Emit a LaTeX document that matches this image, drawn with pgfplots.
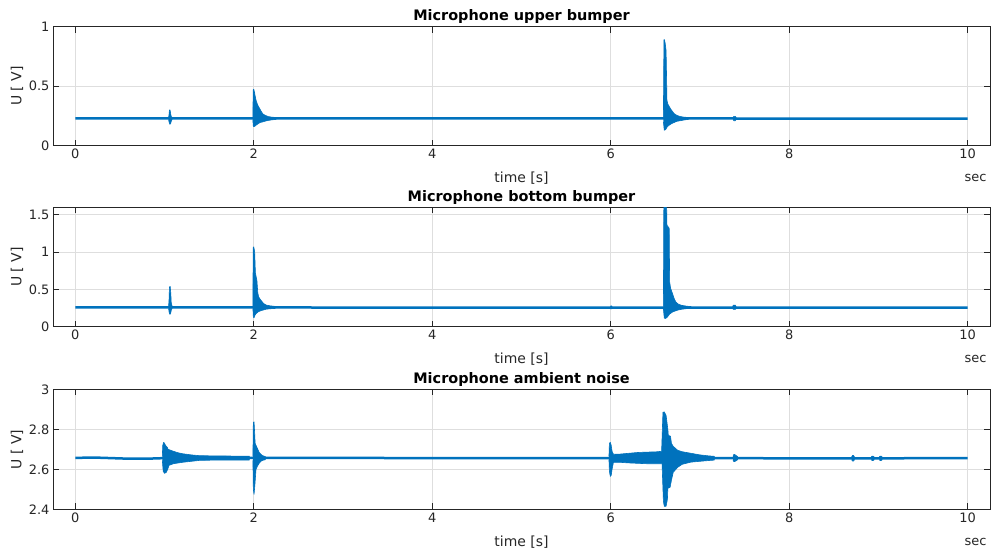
\documentclass[border=0pt]{standalone}
\usepackage{fontspec}
\setmainfont{DejaVu Sans}
\usepackage{pgfplots}
\pgfplotsset{compat=1.18}
\definecolor{mblue}{rgb}{0,0.447,0.741}
\definecolor{axgray}{rgb}{0.15,0.15,0.15}
\pgfplotsset{
  panel/.style={
    width=937bp, scale only axis,
    xmin=-0.25, xmax=10.25,
    xtick={0,2,4,6,8,10},
    axis line style={axgray, line width=0.6bp},
    tick style={axgray, line width=0.6bp},
    major tick length=6bp,
    tick align=inside,
    grid=major,
    grid style={black!13, line width=0.6bp},
    ticklabel style={font=\fontsize{13}{15}\selectfont, text=axgray},
    /pgf/number format/assume math mode=true,
    xlabel={time [s]},
    ylabel={U [ V]},
    every axis x label/.style={at={(rel axis cs:0.5,0)}, anchor=base, yshift=-37bp, font=\fontsize{14}{16}\selectfont, text=axgray},
    every axis y label/.style={at={(rel axis cs:-0.0384,0.5)}, rotate=90, anchor=center, font=\fontsize{14}{16}\selectfont, text=axgray},
    every axis title/.style={at={(rel axis cs:0.5,1)}, anchor=base, yshift=6bp, font=\bfseries\fontsize{14.5}{17}\selectfont},
    no markers,
  },
  base/.style={mblue, line width=2.5bp, line join=round},
  env/.style={mblue, fill=mblue, line width=0.6bp, line join=round},
}
\tikzset{seclab/.style={anchor=base east, font=\fontsize{13}{15}\selectfont, text=axgray, yshift=-36bp}}
\begin{document}
\begin{tikzpicture}
% ---------------- panel 1
\begin{axis}[panel, name=ax1, at={(53bp,-145.7bp)}, anchor=south west, height=119bp,
  ymin=0, ymax=1, ytick={0,0.5,1}, title={Microphone upper bumper}]
\addplot[base] coordinates {(0,0.229) (1,0.229) (2,0.23) (3,0.229) (4,0.229) (5,0.229) (6,0.229) (7,0.229) (8,0.228) (9,0.228) (10,0.228)};
\addplot[env] coordinates {(1.045,0.235) (1.05,0.26) (1.055,0.30) (1.062,0.30) (1.068,0.27) (1.075,0.245) (1.085,0.236)
  (1.085,0.221) (1.075,0.205) (1.068,0.185) (1.06,0.18) (1.052,0.195) (1.045,0.221)};
\addplot[env] coordinates {(1.99,0.236) (1.993,0.47) (2.0,0.475) (2.01,0.44) (2.02,0.40) (2.03,0.37) (2.045,0.34) (2.06,0.32) (2.075,0.30) (2.09,0.28) (2.105,0.265) (2.13,0.255) (2.16,0.245) (2.2,0.24) (2.25,0.237)
  (2.25,0.221) (2.2,0.217) (2.16,0.212) (2.13,0.207) (2.1,0.20) (2.07,0.195) (2.05,0.185) (2.03,0.175) (2.015,0.165) (2.0,0.16) (1.993,0.17) (1.99,0.221)};
\addplot[env] coordinates {(6.59,0.236) (6.596,0.89) (6.603,0.89) (6.61,0.86) (6.62,0.80) (6.625,0.60) (6.63,0.38) (6.64,0.35) (6.655,0.33) (6.67,0.31) (6.69,0.29) (6.71,0.27) (6.74,0.255) (6.78,0.245) (6.82,0.24) (6.87,0.237)
  (6.87,0.221) (6.82,0.216) (6.78,0.21) (6.74,0.205) (6.71,0.195) (6.68,0.185) (6.65,0.17) (6.63,0.155) (6.615,0.135) (6.6,0.13) (6.59,0.20)};
\addplot[env] coordinates {(7.37,0.236) (7.38,0.247) (7.395,0.247) (7.405,0.236) (7.405,0.221) (7.395,0.21) (7.38,0.21) (7.37,0.221)};
\end{axis}
\node[seclab] at (ax1.south east) {sec};
% ---------------- panel 2
\begin{axis}[panel, name=ax2, at={(53bp,-326.7bp)}, anchor=south west, height=119.4bp,
  ymin=0, ymax=1.6, ytick={0,0.5,1,1.5}, title={Microphone bottom bumper}]
\addplot[base] coordinates {(0,0.258) (1,0.258) (2,0.258) (3,0.257) (4,0.257) (5,0.257) (6,0.257) (7,0.257) (8,0.257) (9,0.257) (10,0.257)};
\addplot[env] coordinates {(1.045,0.27) (1.05,0.35) (1.055,0.53) (1.063,0.54) (1.07,0.45) (1.075,0.32) (1.085,0.275)
  (1.085,0.245) (1.075,0.22) (1.068,0.175) (1.06,0.165) (1.052,0.19) (1.045,0.245)};
\addplot[env] coordinates {(1.99,0.27) (1.993,1.06) (2.0,1.07) (2.01,1.0) (2.018,0.72) (2.025,0.68) (2.035,0.62) (2.045,0.45) (2.055,0.40) (2.07,0.37) (2.09,0.34) (2.11,0.31) (2.14,0.29) (2.18,0.28) (2.24,0.272)
  (2.24,0.245) (2.18,0.24) (2.14,0.235) (2.11,0.225) (2.08,0.215) (2.05,0.20) (2.03,0.18) (2.015,0.16) (2.003,0.12) (1.995,0.13) (1.99,0.245)};
\addplot[env] coordinates {(6.59,0.27) (6.595,1.70) (6.625,1.70) (6.63,1.36) (6.655,1.32) (6.66,0.60) (6.67,0.52) (6.69,0.45) (6.71,0.38) (6.73,0.33) (6.76,0.30) (6.80,0.285) (6.85,0.275) (6.90,0.27)
  (6.90,0.245) (6.85,0.242) (6.80,0.235) (6.76,0.225) (6.72,0.21) (6.69,0.195) (6.66,0.17) (6.635,0.13) (6.615,0.11) (6.60,0.115) (6.59,0.24)};
\addplot[env] coordinates {(7.365,0.27) (7.375,0.29) (7.395,0.29) (7.405,0.27) (7.405,0.245) (7.395,0.232) (7.375,0.232) (7.365,0.245)};
\addplot[env] coordinates {(5.995,0.27) (6.0,0.278) (6.01,0.278) (6.015,0.27) (6.015,0.245) (6.01,0.238) (6.0,0.238) (5.995,0.245)};
\end{axis}
\node[seclab] at (ax2.south east) {sec};
% ---------------- panel 3
\begin{axis}[panel, name=ax3, at={(53bp,-509.3bp)}, anchor=south west, height=120bp,
  ymin=2.4, ymax=3, ytick={2.4,2.6,2.8,3}, title={Microphone ambient noise}]
\addplot[base] coordinates {(0,2.657) (0.2,2.659) (0.4,2.656) (0.6,2.653) (0.8,2.653) (1.0,2.656) (1.5,2.657) (2.0,2.657) (3,2.657) (4,2.656) (5,2.656) (6,2.656) (7,2.656) (8,2.655) (9,2.655) (10,2.656)};
\addplot[env] coordinates {(0.975,2.665) (0.98,2.72) (0.99,2.735) (1.0,2.73) (1.01,2.72) (1.03,2.71) (1.04,2.70) (1.07,2.695) (1.1,2.69) (1.15,2.683) (1.2,2.678) (1.3,2.672) (1.4,2.668) (1.6,2.667) (1.8,2.666) (1.95,2.666)
  (1.95,2.646) (1.8,2.646) (1.6,2.646) (1.4,2.645) (1.3,2.64) (1.2,2.635) (1.1,2.628) (1.05,2.62) (1.035,2.60) (1.02,2.585) (1.0,2.58) (0.985,2.59) (0.975,2.645)};
\addplot[env] coordinates {(1.99,2.665) (1.995,2.835) (2.003,2.837) (2.01,2.78) (2.015,2.73) (2.03,2.715) (2.045,2.70) (2.06,2.685) (2.08,2.675) (2.1,2.668) (2.13,2.664)
  (2.13,2.648) (2.1,2.645) (2.08,2.64) (2.06,2.63) (2.04,2.615) (2.025,2.60) (2.012,2.52) (2.003,2.475) (1.995,2.50) (1.99,2.645)};
\addplot[env] coordinates {(5.98,2.665) (5.985,2.73) (5.995,2.735) (6.005,2.72) (6.015,2.69) (6.03,2.675) (6.1,2.676) (6.2,2.68) (6.3,2.684) (6.4,2.686) (6.5,2.687) (6.57,2.69) (6.585,2.885) (6.6,2.887) (6.62,2.87) (6.64,2.80) (6.645,2.77) (6.67,2.765) (6.68,2.73) (6.7,2.715) (6.75,2.695) (6.8,2.688) (6.9,2.68) (7.0,2.672) (7.1,2.667) (7.16,2.665)
  (7.16,2.646) (7.1,2.644) (7.0,2.64) (6.9,2.636) (6.8,2.625) (6.75,2.61) (6.7,2.585) (6.68,2.545) (6.665,2.51) (6.64,2.505) (6.635,2.45) (6.62,2.415) (6.6,2.415) (6.59,2.44) (6.575,2.628) (6.5,2.628) (6.4,2.628) (6.3,2.63) (6.2,2.632) (6.1,2.635) (6.03,2.635) (6.015,2.60) (6.005,2.57) (5.995,2.565) (5.985,2.59) (5.98,2.648)};
\addplot[env] coordinates {(7.37,2.664) (7.38,2.675) (7.395,2.672) (7.42,2.664) (7.42,2.647) (7.395,2.64) (7.38,2.638) (7.37,2.647)};
\addplot[env] coordinates {(8.70,2.663) (8.71,2.669) (8.72,2.669) (8.73,2.663) (8.73,2.647) (8.72,2.641) (8.71,2.641) (8.70,2.647)};
\addplot[env] coordinates {(8.92,2.663) (8.93,2.666) (8.94,2.666) (8.95,2.663) (8.95,2.647) (8.94,2.644) (8.93,2.644) (8.92,2.647)};
\addplot[env] coordinates {(9.01,2.663) (9.02,2.666) (9.03,2.666) (9.04,2.663) (9.04,2.647) (9.03,2.644) (9.02,2.644) (9.01,2.647)};
\end{axis}
\node[seclab] at (ax3.south east) {sec};
\pgfresetboundingbox
\useasboundingbox (0,0) rectangle (993bp,-550bp);
\end{tikzpicture}
\end{document}
